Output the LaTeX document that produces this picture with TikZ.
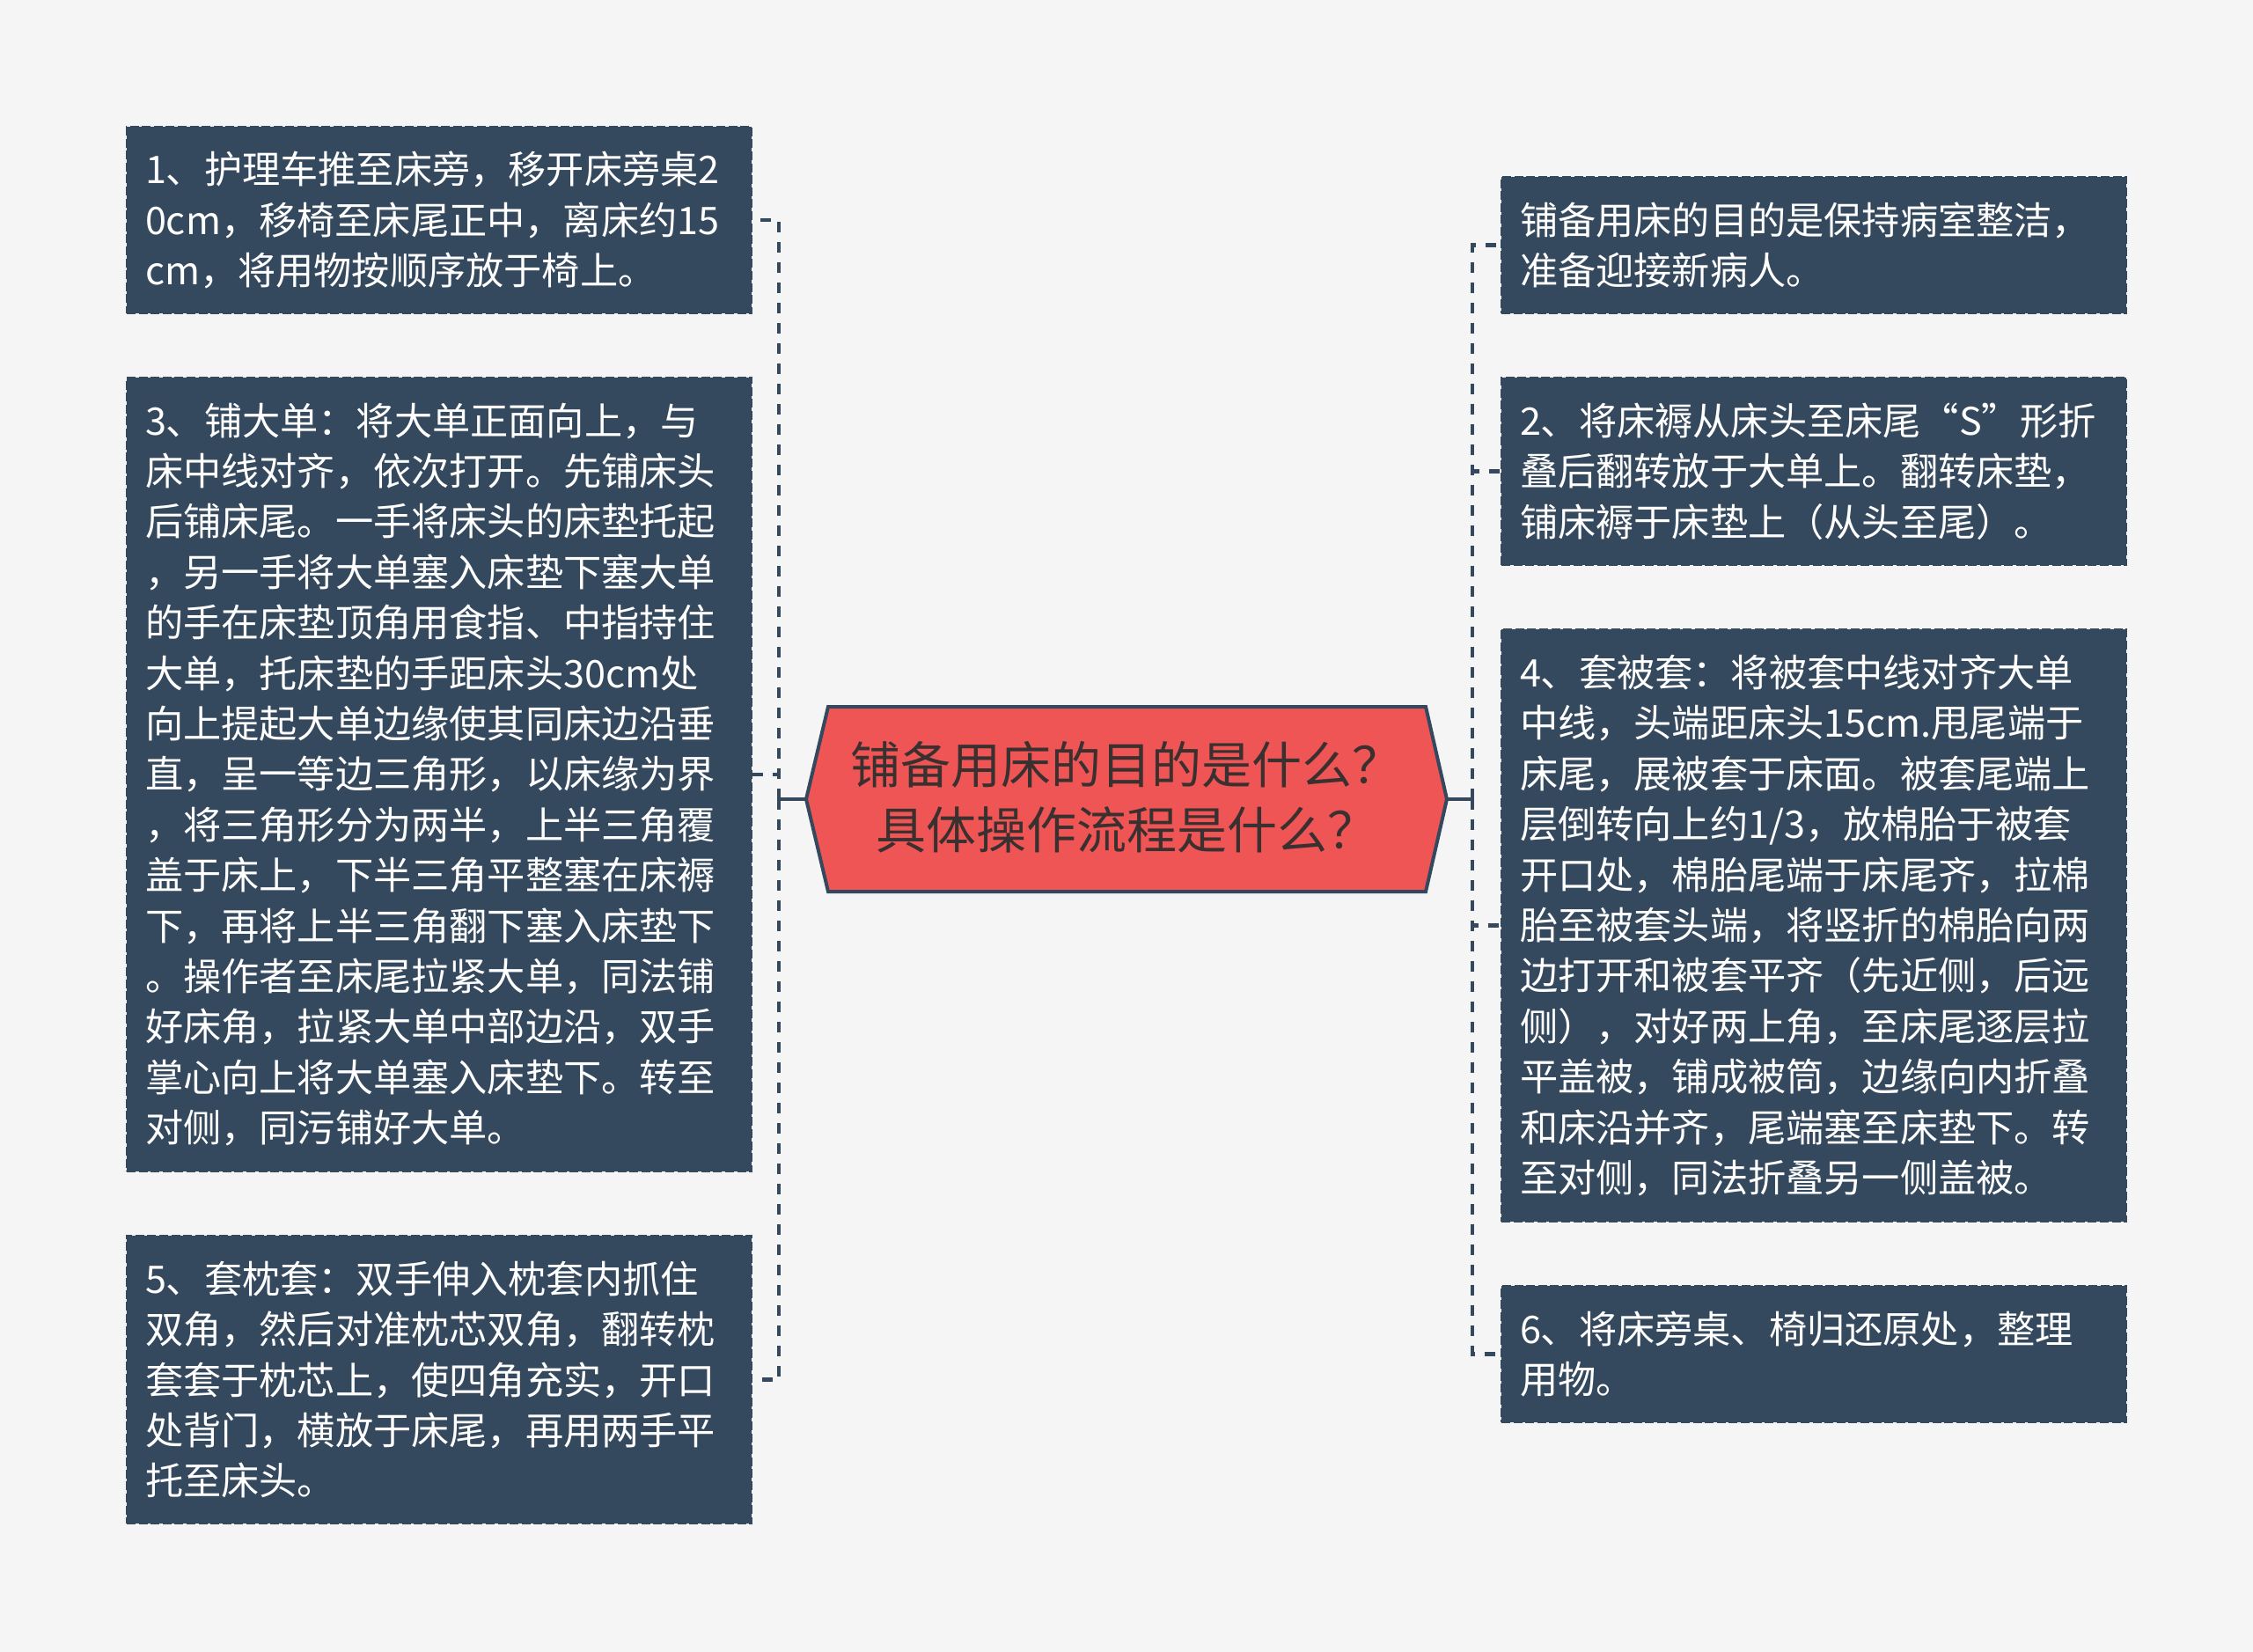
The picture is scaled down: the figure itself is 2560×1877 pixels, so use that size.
\documentclass[tikz,border=0pt]{standalone}
\usepackage{fontspec}
\setmainfont{Noto Sans CJK SC}
\definecolor{bg}{HTML}{F5F5F5}
\definecolor{boxc}{HTML}{34495E}
\definecolor{hexc}{HTML}{EF5555}
\definecolor{hextext}{HTML}{3A3030}
\begin{document}
\begin{tikzpicture}[x=0.5pt,y=-0.5pt,
  leaf/.style={fill=boxc, draw=boxc, line width=1.3pt, dash pattern=on 5pt off 1.8pt,
    text=white, align=left, minimum width=355pt, text width=334pt, inner xsep=10.5pt, inner ysep=0pt,
    font=\fontsize{21.6pt}{28.7pt}\selectfont, anchor=center},
  conn/.style={draw=boxc, line width=2.4pt, dash pattern=on 6pt off 5.5pt},
  stub/.style={draw=boxc, line width=2.4pt},
]
\path[fill=bg] (0,0) rectangle (2560,1877);
\useasboundingbox (0,0) rectangle (2560,1877);

% left boxes
\node[leaf, minimum height=106pt] (L1) at (499,250) {1、护理车推至床旁，移开床旁桌2\\0cm，移椅至床尾正中，离床约15\\cm，将用物按顺序放于椅上。};
\node[leaf, minimum height=451pt] (L3) at (499,880) {3、铺大单：将大单正面向上，与\\床中线对齐，依次打开。先铺床头\\后铺床尾。一手将床头的床垫托起\\，另一手将大单塞入床垫下塞大单\\的手在床垫顶角用食指、中指持住\\大单，托床垫的手距床头30cm处\\向上提起大单边缘使其同床边沿垂\\直，呈一等边三角形，以床缘为界\\，将三角形分为两半，上半三角覆\\盖于床上，下半三角平整塞在床褥\\下，再将上半三角翻下塞入床垫下\\。操作者至床尾拉紧大单，同法铺\\好床角，拉紧大单中部边沿，双手\\掌心向上将大单塞入床垫下。转至\\对侧，同污铺好大单。};
\node[leaf, minimum height=163.5pt] (L5) at (499,1567.5) {5、套枕套：双手伸入枕套内抓住\\双角，然后对准枕芯双角，翻转枕\\套套于枕芯上，使四角充实，开口\\处背门，横放于床尾，再用两手平\\托至床头。};

% right boxes
\node[leaf, minimum height=77.5pt] (RA) at (2061,278.5) {铺备用床的目的是保持病室整洁，\\准备迎接新病人。};
\node[leaf, minimum height=106.5pt] (R2) at (2061,535.5) {2、将床褥从床头至床尾“S”形折\\叠后翻转放于大单上。翻转床垫，\\铺床褥于床垫上（从头至尾）。};
\node[leaf, minimum height=336.5pt] (R4) at (2061,1051.5) {4、套被套：将被套中线对齐大单\\中线，头端距床头15cm.甩尾端于\\床尾，展被套于床面。被套尾端上\\层倒转向上约1/3，放棉胎于被套\\开口处，棉胎尾端于床尾齐，拉棉\\胎至被套头端，将竖折的棉胎向两\\边打开和被套平齐（先近侧，后远\\侧），对好两上角，至床尾逐层拉\\平盖被，铺成被筒，边缘向内折叠\\和床沿并齐，尾端塞至床垫下。转\\至对侧，同法折叠另一侧盖被。};
\node[leaf, minimum height=77.5pt] (R6) at (2061,1538.5) {6、将床旁桌、椅归还原处，整理\\用物。};

% center hexagon
\coordinate (cl) at (916,908);
\coordinate (cr) at (1644,908);
\draw[fill=hexc, draw=boxc, line width=2pt, line join=miter]
  (cl) -- (941,803) -- (1620,803) -- (cr) -- (1620,1013) -- (941,1013) -- cycle;
\node[text=hextext, align=center, font=\fontsize{28.5pt}{37pt}\selectfont] (center) at (1280,906)
  {铺备用床的目的是什么？\\具体操作流程是什么？};

% connectors
\coordinate (xl) at (885,0);
\coordinate (xr) at (1673,0);
\draw[stub] (cl) -- (cl -| xl);
\draw[stub] (cr) -- (cr -| xr);
\foreach \b in {L1,L3,L5}{
  \draw[conn] (cl -| xl) |- (\b.east);
}
\foreach \b in {RA,R2,R4,R6}{
  \draw[conn] (cr -| xr) |- (\b.west);
}
\end{tikzpicture}
\end{document}
